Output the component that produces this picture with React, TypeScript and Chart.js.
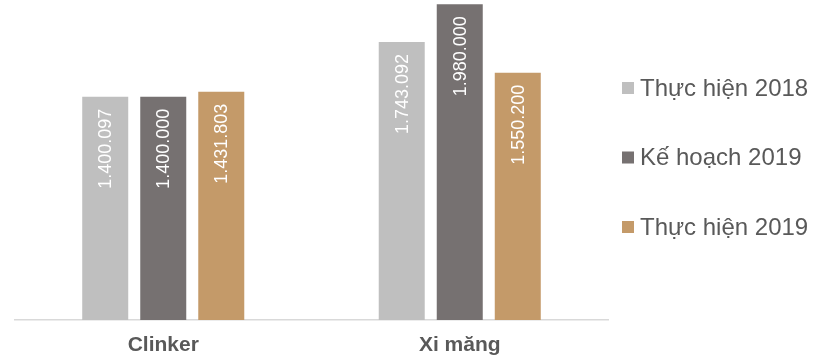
import React, { useEffect, useRef } from "react";
import { Chart, registerables } from "chart.js";

Chart.register(...registerables);

const categories = ["Clinker", "Xi măng"];
const seriesNames = ["Thực hiện 2018", "Kế hoạch 2019", "Thực hiện 2019"];
const thucHien2018 = [1400097, 1743092];
const keHoach2019 = [1400000, 1980000];
const thucHien2019 = [1431803, 1550200];
const seriesColors = ["#BFBFBF", "#767171", "#C49A69"];

const FONT = "'Liberation Sans', Arial, sans-serif";

const formatVN = (v: number) =>
  String(Math.round(v)).replace(/\B(?=(\d{3})+(?!\d))/g, ".");

// White rotated value labels placed inside each bar, near its top
const barValueLabels = {
  id: "barValueLabels",
  afterDatasetsDraw(chart: any) {
    const ctx = chart.ctx;
    ctx.save();
    ctx.fillStyle = "#FFFFFF";
    ctx.font = `18px ${FONT}`;
    chart.data.datasets.forEach((ds: any, di: number) => {
      const meta = chart.getDatasetMeta(di);
      meta.data.forEach((bar: any, i: number) => {
        ctx.save();
        ctx.translate(bar.x + 1, bar.y + 12);
        ctx.rotate(-Math.PI / 2);
        ctx.textAlign = "right";
        ctx.textBaseline = "middle";
        ctx.fillText(formatVN(ds.data[i]), 0, 0);
        ctx.restore();
      });
    });
    ctx.restore();
  },
};

// Legend column to the right of the plot: square swatch + series name
const sideLegend = {
  id: "sideLegend",
  afterDraw(chart: any) {
    const ctx = chart.ctx;
    const area = chart.chartArea;
    const x0 = area.right + 14;
    const firstY = area.top + 87;
    const step = 69.5;
    const box = 12;
    ctx.save();
    ctx.font = `24px ${FONT}`;
    ctx.textBaseline = "middle";
    ctx.textAlign = "left";
    chart.data.datasets.forEach((ds: any, i: number) => {
      const cy = firstY + i * step;
      ctx.fillStyle = ds.backgroundColor;
      ctx.fillRect(x0, cy - box / 2, box, box);
      ctx.fillStyle = "#595959";
      ctx.fillText(ds.label, x0 + box + 6, cy + 1);
    });
    ctx.restore();
  },
};

export default function App() {
  const canvasRef = useRef<HTMLCanvasElement | null>(null);

  useEffect(() => {
    if (!canvasRef.current) return;
    const values = [thucHien2018, keHoach2019, thucHien2019];
    const chart = new Chart(canvasRef.current, {
      type: "bar",
      data: {
        labels: categories,
        datasets: seriesNames.map((name, k) => ({
          label: name,
          data: values[k],
          backgroundColor: seriesColors[k],
          borderWidth: 0,
          categoryPercentage: 0.587,
          barPercentage: 0.793,
        })),
      },
      options: {
        animation: false,
        responsive: true,
        maintainAspectRatio: false,
        layout: { padding: { left: 15, top: 1, right: 220, bottom: 0 } },
        plugins: {
          legend: { display: false },
          tooltip: { enabled: false },
        },
        scales: {
          x: {
            grid: { display: false, drawTicks: false, tickLength: 0 },
            border: { display: true, color: "#D9D9D9", width: 1.5 },
            ticks: {
              color: "#595959",
              padding: 13,
              font: { family: FONT, size: 21, weight: "bold" },
            },
            afterFit(scale: any) {
              scale.height = 39;
            },
          },
          y: {
            display: false,
            min: 0,
            max: 2000000,
          },
        },
      },
      plugins: [barValueLabels, sideLegend],
    });
    return () => chart.destroy();
  }, []);

  return (
    <div style={{ position: "fixed", left: 0, top: 0, width: 828, height: 359, background: "#FFFFFF" }}>
      <canvas ref={canvasRef} />
    </div>
  );
}
